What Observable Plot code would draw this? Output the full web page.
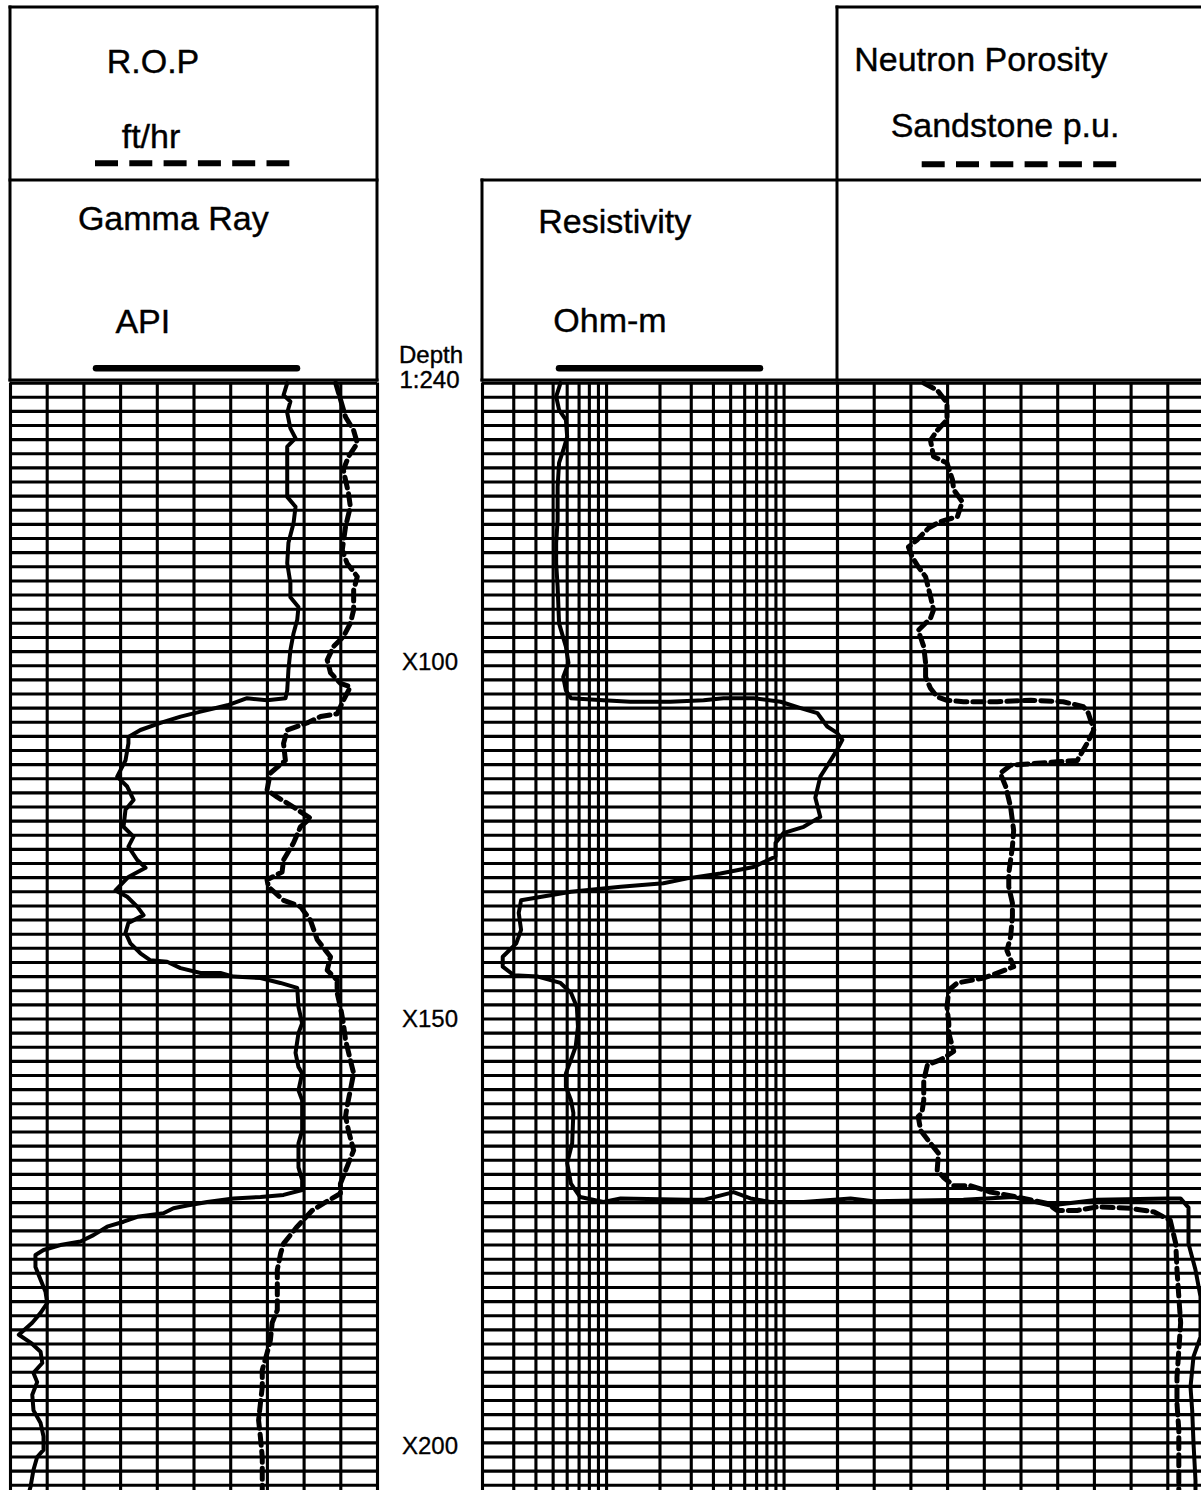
<!DOCTYPE html>
<html><head><meta charset="utf-8">
<script src="https://cdn.jsdelivr.net/npm/d3@7"></script>
<script src="https://cdn.jsdelivr.net/npm/@observablehq/plot@0.6"></script>
<style>
html,body{margin:0;padding:0;background:#fff;}
#chart{position:relative;width:1201px;height:1490px;overflow:hidden;background:#fff;font-family:"Liberation Sans",Arial,sans-serif;}
#chart svg{position:absolute;}
</style></head><body><div id="chart"></div>
<script>
// ---------- DATA (depth ft, value) ----------
const depthGrid = d3.range(60, 217, 2);          // horizontal grid every 2 ft
const grGrid = d3.range(0, 151, 15);             // Gamma Ray API divisions
const resGrid = [0.2,0.3,0.4,0.5,0.6,0.7,0.8,0.9,1,2,3,4,5,6,7,8,9,10,20]; // log grid Ohm-m
const nphiGrid = d3.range(45, -16, -6);          // neutron porosity p.u. divisions

const depthLabels = ["X100", "X150", "X200"];
const depthLabelAt = [99.5, 150.1, 210.5];

const gammaRay = [[60.0,113.1],[61.7,111.6],[62.6,114.4],[64.2,113.1],[66.4,114.4],[67.8,116.5],[69.0,113.1],[72.3,113.1],[76.1,113.1],[77.5,116.5],
[79.8,115.7],[82.6,113.6],[85.5,113.1],[88.3,114.4],[90.3,114.4],[91.7,117.7],[93.5,117.2],[95.4,115.7],[97.8,114.4],[100.6,113.6],
[103.5,113.1],[104.6,112.4],[104.9,104.9],[104.6,96.7],[105.6,88.6],[106.5,77.7],[107.2,69.5],[108.1,61.3],[109.1,53.1],[110.1,48.2],
[111.0,48.2],[113.4,47.0],[115.7,43.6],[117.1,47.7],[119.0,50.3],[120.4,47.0],[122.8,46.2],[124.2,50.3],[125.6,48.2],[127.5,51.8],
[128.6,55.2],[129.9,48.2],[131.8,42.9],[132.7,47.7],[134.1,51.8],[135.3,54.4],[136.4,48.2],[137.8,47.0],[139.3,49.0],[140.7,53.1],
[141.7,57.2],[141.9,64.0],[142.8,69.5],[143.5,77.7],[143.5,85.8],[144.0,91.1],[144.2,102.2],[144.9,110.3],[145.6,117.2],[148.3,117.7],
[150.6,119.2],[152.0,117.7],[154.8,116.5],[156.8,117.7],[157.7,119.2],[160.1,117.7],[161.5,119.2],[163.3,119.2],[165.8,119.2],[167.6,117.7],
[171.0,117.7],[172.8,119.2],[174.2,119.2],[174.9,111.6],[175.2,102.2],[175.4,91.1],[175.9,80.4],[176.4,72.2],[176.8,66.6],[177.5,62.5],
[178.0,51.8],[178.7,46.2],[179.4,39.5],[180.6,33.9],[181.5,28.6],[182.0,20.4],[182.7,13.5],[183.4,10.2],[185.1,10.2],[186.9,12.3],
[188.6,14.3],[190.2,15.0],[191.6,12.3],[193.0,8.9],[194.7,3.4],[195.8,8.2],[197.1,12.3],[198.7,13.0],[200.1,9.4],[201.4,10.9],
[203.2,8.9],[205.4,9.4],[207.2,12.3],[209.1,13.5],[211.0,13.5],[212.0,10.9],[213.8,9.4],[216.2,8.2],[216.7,7.8]];

const rop = [[60.0,11.4],[61.4,10.6],[64.8,8.7],[66.7,6.5],[68.5,5.5],[70.4,7.9],[72.3,9.3],[75.6,7.9],[77.5,7.4],[80.3,8.7],
[83.6,9.6],[85.5,8.3],[87.4,5.5],[89.3,6.5],[92.1,6.5],[94.0,7.4],[95.9,9.3],[97.3,12.0],[99.2,13.7],[101.0,12.8],
[102.5,10.1],[103.0,7.4],[104.9,9.3],[106.8,11.0],[107.2,15.5],[108.1,19.2],[109.1,24.6],[111.0,25.6],[113.4,25.1],[115.2,29.2],
[117.6,30.1],[118.6,27.3],[120.0,22.9],[121.6,18.3],[122.8,21.0],[125.1,22.9],[127.5,25.6],[129.2,26.0],[130.3,30.1],[131.3,29.7],
[133.2,25.6],[134.1,21.0],[136.0,18.3],[138.8,16.4],[141.2,12.8],[143.1,13.7],[144.5,11.0],[146.3,11.0],[148.3,10.1],[150.6,9.3],
[153.0,8.7],[155.8,7.4],[157.7,6.5],[160.1,7.4],[162.4,8.3],[163.8,8.7],[165.8,7.9],[168.6,6.5],[170.4,7.9],[173.3,10.1],
[174.7,10.1],[176.1,14.7],[177.1,17.8],[179.4,21.9],[181.8,25.6],[183.2,26.4],[185.5,27.3],[187.9,27.3],[191.2,27.3],[193.0,28.7],
[195.5,29.2],[197.3,30.1],[199.7,31.4],[202.1,31.4],[204.4,31.9],[206.8,32.4],[209.2,31.9],[212.0,31.4],[215.3,31.4],[216.7,31.4]];

const resistivity = [[60.0,0.55],[61.9,0.52],[63.8,0.54],[65.2,0.59],[67.6,0.60],[69.5,0.57],[71.3,0.54],[74.7,0.53],[79.4,0.53],[82.6,0.52],
[85.5,0.52],[88.8,0.53],[94.0,0.54],[97.3,0.59],[99.6,0.61],[101.6,0.57],[103.5,0.59],[104.6,0.63],[104.9,0.96],[105.1,1.36],
[105.1,2.29],[104.9,3.52],[104.6,4.56],[104.6,6.73],[105.1,9.55],[106.0,12.4],[106.7,15.4],[108.6,17.5],[109.5,19.9],[110.5,21.3],
[111.9,19.9],[113.4,18.3],[115.7,16.0],[118.7,15.0],[121.4,16.0],[122.8,12.9],[123.7,9.9],[125.1,8.95],[127.0,8.95],[128.5,6.73],
[129.4,4.38],[130.1,2.85],[130.8,2.09],[131.3,1.20],[132.0,0.63],[133.2,0.33],[135.0,0.32],[137.4,0.33],[139.3,0.31],[141.2,0.26],
[142.6,0.26],[143.8,0.30],[144.0,0.41],[144.9,0.55],[146.3,0.63],[148.3,0.68],[151.1,0.69],[153.9,0.67],[155.8,0.63],[157.7,0.59],
[159.6,0.59],[161.5,0.63],[163.3,0.65],[167.6,0.64],[170.4,0.60],[173.3,0.63],[175.2,0.71],[175.9,0.96],[175.4,1.20],[175.6,2.85],
[175.6,3.52],[174.5,5.19],[175.4,6.47],[175.9,8.39],[175.9,12.9],[175.4,23.7],[175.8,31.9],[175.6,102.5],[175.2,196],[176.4,317],
[175.6,581],[175.4,1440],[175.4,1711],[176.7,1899],[181.8,1899],[185.5,2079],[189.3,2219],[195.0,2219],[197.8,2026],[202.1,1949],
[205.4,1992],[210.0,2026],[215.3,2079],[216.7,2079]];

const neutron = [[60.0,30.9],[61.0,28.7],[62.8,27.1],[65.2,27.1],[66.7,28.7],[68.1,29.8],[70.4,29.3],[71.3,27.1],[73.7,26.2],[75.1,26.0],
[76.8,24.6],[78.9,25.4],[79.6,28.2],[80.5,30.1],[82.2,32.0],[83.2,33.4],[84.6,32.8],[86.0,31.8],[87.4,30.6],[90.2,29.8],
[92.1,29.3],[93.3,29.8],[95.0,31.8],[97.3,30.9],[99.6,30.6],[101.6,30.6],[103.2,29.8],[104.4,28.7],[104.9,27.1],[105.1,24.4],
[105.1,18.9],[104.9,13.4],[105.1,8.1],[105.8,4.8],[106.7,4.0],[109.1,3.1],[111.0,4.2],[113.4,5.8],[113.6,9.1],[113.8,12.4],
[114.1,16.7],[115.2,18.4],[117.1,17.5],[120.0,16.7],[123.3,16.2],[125.6,16.4],[129.4,17.0],[131.3,17.0],[133.6,16.4],[135.5,16.4],
[138.4,16.7],[140.3,17.3],[142.6,16.2],[143.5,18.9],[144.2,21.1],[144.9,25.4],[145.9,26.8],[148.3,27.1],[150.6,26.8],[152.0,26.8],
[154.6,26.0],[155.8,28.2],[156.5,30.3],[158.7,30.9],[161.5,30.9],[163.3,31.2],[163.8,31.8],[165.8,31.4],[167.6,29.8],[169.0,28.5],
[171.4,28.7],[172.4,27.7],[173.6,26.0],[173.6,23.3],[174.5,20.0],[175.2,15.6],[176.1,10.7],[177.1,9.1],[177.1,5.8],[176.6,2.5],
[176.8,-2.9],[177.3,-6.7],[178.5,-9.4],[181.8,-10.3],[185.5,-10.5],[189.3,-10.8],[193.0,-11.1],[196.9,-10.8],[200.7,-10.5],[204.4,-10.5],
[208.2,-10.8],[212.0,-10.8],[216.7,-10.8]];

const headerTitles = ["R.O.P","ft/hr","Gamma Ray","API","Resistivity","Ohm-m","Neutron Porosity","Sandstone p.u.","Depth","1:240"];

// ---------- LAYOUT ----------
const FONT = '"Liberation Sans", Arial, sans-serif';
const titlePos = [[153,72.7,34],[151,148.3,34],[173.3,230,34],[142.8,333.3,34],[614.7,233,34],[610,331.7,34],[980.8,70.7,34],[1005,136.7,34],[431,362.7,24],[429.5,387.7,24]];
const frameLines = [[10,7,377,7],[10,180,377,180],[10,380,377,380],[10,7,10,380],[377,7,377,380],
  [837,7,1201,7],[482,180,1201,180],[482,380,1201,380],[482,180,482,380],[837,7,837,380]];
const legendLines = [[95,289.3,163.3,true],[921.7,1116.7,164.3,true],[96,297,368.3,false],[559,760,368.3,false]];

const chart = document.getElementById("chart");

// header (frames, titles, curve keys)
const hdr = d3.create("svg").attr("width",1201).attr("height",400).style("left","0px").style("top","0px").style("overflow","visible");
frameLines.forEach(([x1,y1,x2,y2]) => hdr.append("line").attr("x1",x1).attr("y1",y1).attr("x2",x2).attr("y2",y2)
  .attr("stroke","#000").attr("stroke-width",3).attr("stroke-linecap","square"));
headerTitles.forEach((t,i) => {
  const [x,y,s] = titlePos[i];
  hdr.append("text").attr("x",x).attr("y",y).attr("text-anchor","middle").attr("font-size",s)
    .attr("font-family",FONT).attr("fill","#000").attr("stroke","#000").attr("stroke-width",0.4).text(t);
});
legendLines.forEach(([x1,x2,y,dash]) => {
  const l = hdr.append("line").attr("x1",x1).attr("x2",x2).attr("y1",y).attr("y2",y).attr("stroke","#000");
  if (dash) l.attr("stroke-width",6).attr("stroke-dasharray","23,11.3");
  else l.attr("stroke-width",6.5).attr("stroke-linecap","round");
});
chart.appendChild(hdr.node());

// common track setup (depth increases downward)
const TOP = 379, H = 1111;
const yScale = {domain: [60, 216.74], reverse: true, axis: null};
function track(left, width, x, marks) {
  const svg = Plot.plot({
    width, height: H, marginTop: 3.6, marginBottom: 0, marginLeft: 0, marginRight: 0,
    x: {...x, axis: null}, y: yScale,
    style: {background: "transparent", overflow: "visible", fontFamily: FONT},
    marks
  });
  svg.style.left = left + "px"; svg.style.top = TOP + "px";
  chart.appendChild(svg);
}
const GRID_W = 3.1;
const gridY = Plot.ruleY(depthGrid, {stroke: "#000", strokeWidth: GRID_W});
const toRows = arr => arr.map(([depth, value]) => ({depth, value}));

// Track 3: neutron porosity (sandstone p.u., 45 -> -15)
track(837, 367, {domain: [45, -15]}, [
  gridY,
  Plot.ruleX(nphiGrid, {stroke: "#000", strokeWidth: GRID_W}),
  Plot.line(toRows(neutron), {x: "value", y: "depth", stroke: "#000", strokeWidth: 5, strokeDasharray: "11,6"})
]);

// Track 1: gamma ray (0-150 API)
track(10, 367, {domain: [0, 150]}, [
  gridY,
  Plot.ruleX(grGrid, {stroke: "#000", strokeWidth: GRID_W}),
  Plot.line(toRows(gammaRay), {x: "value", y: "depth", stroke: "#000", strokeWidth: 4, strokeLinejoin: "round"})
]);

// Track 1 overlay: R.O.P (100 -> 0 ft/hr)
track(10, 367, {domain: [100, 0]}, [
  Plot.line(toRows(rop), {x: "value", y: "depth", stroke: "#000", strokeWidth: 5, strokeDasharray: "11,6"})
]);

// Track 2: resistivity (log 0.2-20, wraps on into track 3)
track(482, 355, {type: "log", domain: [0.2, 20]}, [
  gridY,
  Plot.ruleX(resGrid, {stroke: "#000", strokeWidth: GRID_W}),
  Plot.line(toRows(resistivity), {x: "value", y: "depth", stroke: "#000", strokeWidth: 4, strokeLinejoin: "round"})
]);

// Depth track labels
{
  const svg = Plot.plot({
    width: 105, height: H, marginTop: 3.6, marginBottom: 0, marginLeft: 0, marginRight: 0,
    y: yScale,
    style: {background: "transparent", overflow: "visible", fontFamily: FONT},
    marks: [Plot.text(depthLabels.map((label, i) => ({label, depth: depthLabelAt[i]})),
      {y: "depth", text: "label", frameAnchor: "middle", fontSize: 24, fill: "#000", stroke: "#000", strokeWidth: 0.3})]
  });
  svg.style.left = "377px"; svg.style.top = TOP + "px";
  chart.appendChild(svg);
}
</script></body></html>
